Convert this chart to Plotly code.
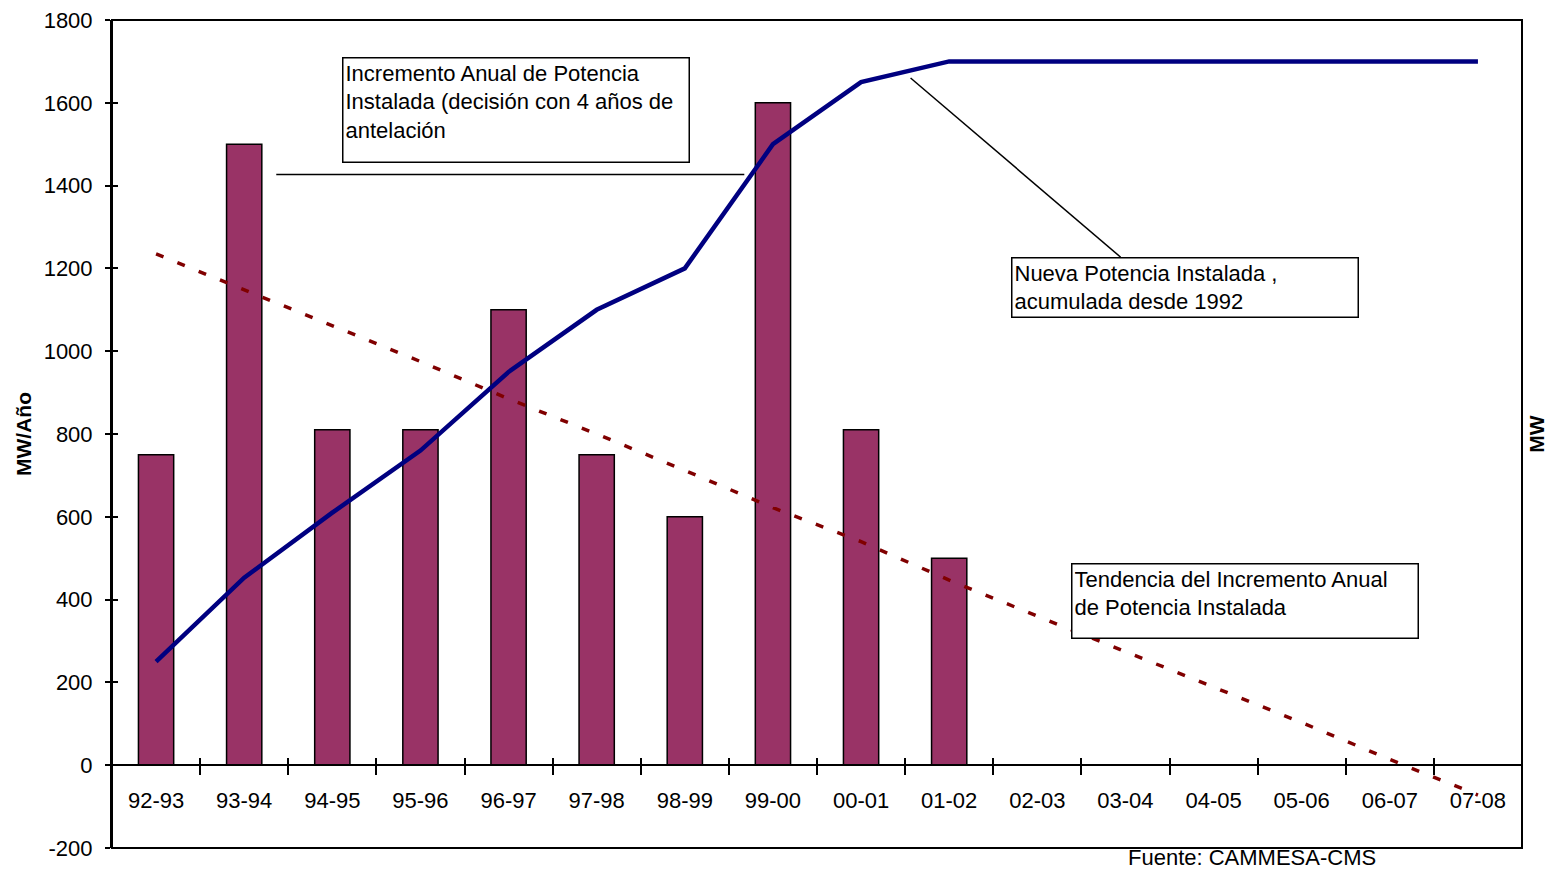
import plotly.graph_objects as go

categories = ["92-93", "93-94", "94-95", "95-96", "96-97", "97-98", "98-99", "99-00",
              "00-01", "01-02", "02-03", "03-04", "04-05", "05-06", "06-07", "07-08"]
incremento_anual = [750, 1500, 810, 810, 1100, 750, 600, 1600, 810, 500,
                    None, None, None, None, None, None]
potencia_acumulada = [250, 453, 610, 760, 950, 1100, 1200, 1500, 1650, 1700,
                      1700, 1700, 1700, 1700, 1700, 1700]
tendencia = [1235, 1148, 1060, 975, 885, 800, 712, 622, 540, 447,
             360, 275, 190, 103, 14, -72]
y_tickvals = [-200, 0, 200, 400, 600, 800, 1000, 1200, 1400, 1600, 1800]
y_ticktext = ["-200", "0", "200", "400", "600", "800", "1000", "1200", "1400", "1600", "1800"]

FONT = "Liberation Sans, Arial, sans-serif"
YR = [-200, 1800]
XR = [-0.5, 15.5]

fig = go.Figure()
fig.add_trace(go.Bar(x=categories, y=incremento_anual, width=0.4,
                     marker=dict(color="#993366", line=dict(color="black", width=1.5)),
                     xaxis="x", yaxis="y", showlegend=False, hoverinfo="skip"))
fig.add_trace(go.Scatter(x=categories, y=potencia_acumulada, mode="lines",
                         line=dict(color="#000080", width=4.5),
                         xaxis="x", yaxis="y2", showlegend=False, hoverinfo="skip"))
fig.add_trace(go.Scatter(x=categories, y=tendencia, mode="lines",
                         line=dict(color="#800000", width=3.5, dash="8px,15px"),
                         xaxis="x2", yaxis="y3", showlegend=False, hoverinfo="skip"))

tickfont = dict(family=FONT, size=22, color="black")

fig.update_layout(
    width=1550, height=871,
    margin=dict(l=112, r=6, t=20, b=23),
    paper_bgcolor="white", plot_bgcolor="white",
    font=dict(family=FONT, size=22, color="black"),
    xaxis=dict(type="category", categoryorder="array", categoryarray=categories,
               range=XR, anchor="free", position=0.1,
               showline=True, linecolor="black", linewidth=2,
               ticks="outside", tickson="boundaries", ticklen=9, tickwidth=1.5,
               tickcolor="black", tickfont=tickfont, ticklabelstandoff=15,
               showgrid=False, zeroline=False),
    xaxis2=dict(type="category", categoryorder="array", categoryarray=categories,
                range=XR, overlaying="x", anchor="free", position=0.1,
                showline=False, ticks="inside", tickson="boundaries", ticklen=7,
                tickwidth=1.5, tickcolor="black", showticklabels=False,
                showgrid=False, zeroline=False),
    yaxis=dict(range=YR, tickmode="array", tickvals=y_tickvals, ticktext=y_ticktext,
               showline=True, linecolor="black", linewidth=2,
               ticks="outside", ticklen=5, tickwidth=1.5, tickcolor="black",
               tickfont=tickfont, ticklabelstandoff=8,
               showgrid=False, zeroline=False,
               title=dict(text="<b>MW/Año</b>", font=dict(family=FONT, size=21),
                          standoff=6)),
    yaxis2=dict(range=YR, overlaying="y", side="right", showticklabels=False,
                ticks="", showline=False, showgrid=False, zeroline=False,
                title=dict(text="<b>MW</b>", font=dict(family=FONT, size=21),
                           standoff=7)),
    yaxis3=dict(range=YR, overlaying="y", side="left", tickmode="array",
                tickvals=y_tickvals, ticks="inside", ticklen=6, tickwidth=1.5,
                tickcolor="black", showticklabels=False, showline=False,
                showgrid=False, zeroline=False),
)

# plot-area frame
fig.add_shape(type="rect", xref="paper", yref="paper", x0=0, y0=0, x1=1, y1=1,
              line=dict(color="black", width=2), layer="above")
# leader lines
fig.add_shape(type="line", xref="x", yref="y", x0=1.364, y0=1427, x1=6.675, y1=1427,
              line=dict(color="black", width=1.5))
fig.add_shape(type="line", xref="x", yref="y", x0=8.562, y0=1660, x1=10.946, y1=1227,
              line=dict(color="black", width=1.5))

box = dict(showarrow=False, xanchor="left", yanchor="top", align="left", valign="top",
           bordercolor="black", borderwidth=1.5, borderpad=2, bgcolor="white",
           font=dict(family=FONT, size=22, color="black"), xref="x", yref="y")
fig.add_annotation(text="Incremento Anual de Potencia<br>Instalada (decisión con 4 años de<br>antelación",
                   x=2.110, y=1710, width=341, height=99, **box)
fig.add_annotation(text="Nueva Potencia Instalada ,<br>acumulada desde 1992",
                   x=9.703, y=1227, width=341, height=54, **box)
fig.add_annotation(text="Tendencia del Incremento Anual<br>de Potencia Instalada",
                   x=10.381, y=489, width=341, height=69, **box)
fig.add_annotation(text="Fuente: CAMMESA-CMS", xref="paper", yref="paper",
                   x=0.719, y=-0.012, xanchor="left", yanchor="middle",
                   showarrow=False, font=dict(family=FONT, size=22, color="black"))

fig.write_html("out.html", config={"displayModeBar": False},
               post_script="document.body.style.margin='0';document.body.style.overflow='hidden';")
